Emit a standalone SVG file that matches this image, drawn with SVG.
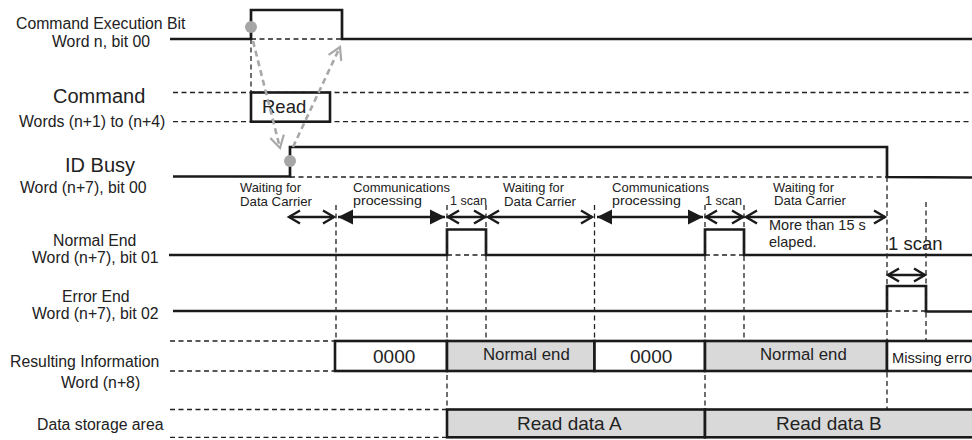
<svg xmlns="http://www.w3.org/2000/svg" width="972" height="440" viewBox="0 0 972 440">
<style>
text{font-family:"Liberation Sans",Arial,sans-serif;fill:#222}
.lbl{font-size:15.8px}
.big{font-size:20px}
.ann{font-size:12.2px}
.sig{fill:none;stroke:#1a1a1a;stroke-width:2.7;stroke-linejoin:miter}
.dash{fill:none;stroke:#222;stroke-width:1.3;stroke-dasharray:5 3.5}
.box{stroke:#1a1a1a;stroke-width:2.6}
.w{fill:#fff}
.g{fill:#d9d9d9}
.garr{fill:none;stroke:#a8a8a8;stroke-width:2.6;stroke-dasharray:6 4}
.oarr{fill:none;stroke:#1a1a1a;stroke-width:2.4}
</style>
<defs>
<marker id="gv" markerUnits="userSpaceOnUse" markerWidth="16" markerHeight="16" refX="12" refY="7" orient="auto" overflow="visible">
<path d="M0,0 L12,7 L0,14" fill="none" stroke="#a8a8a8" stroke-width="2.2"/>
</marker>
<marker id="ov" markerUnits="userSpaceOnUse" markerWidth="16" markerHeight="16" refX="11" refY="6.5" orient="auto-start-reverse" overflow="visible">
<path d="M0,0 L11,6.5 L0,13" fill="none" stroke="#1a1a1a" stroke-width="2.4"/>
</marker>
<marker id="fv" markerUnits="userSpaceOnUse" markerWidth="18" markerHeight="18" refX="15" refY="7.5" orient="auto-start-reverse" overflow="visible">
<path d="M0,0 L15,7.5 L0,15 Z" fill="#1a1a1a"/>
</marker>
</defs>
<rect width="972" height="440" fill="#fff"/>

<g id="cmd-exec">
<text class="lbl" x="16" y="29">Command Execution Bit</text>
<text class="lbl" x="52" y="46.5">Word n, bit 00</text>
<line class="dash" x1="251" y1="39" x2="342" y2="39"/>
<line class="dash" x1="251" y1="39" x2="251" y2="92"/>
<polyline class="sig" points="170,39 251,39 251,10 342,10 342,39 972,39"/>
<circle cx="251" cy="27" r="6" fill="#a6a6a6"/>
</g>

<g id="command">
<text class="big" x="53" y="102.5">Command</text>
<text class="lbl" x="19" y="126.5">Words (n+1) to (n+4)</text>
<line class="dash" x1="173" y1="92.5" x2="972" y2="92.5"/>
<line class="dash" x1="173" y1="121.7" x2="972" y2="121.7"/>
<rect class="box w" x="251" y="92.5" width="79" height="29.2"/>
<text x="262" y="113" style="font-size:18.5px">Read</text>
</g>

<g id="id-busy">
<text class="big" x="65" y="171.5">ID Busy</text>
<text class="lbl" x="20" y="192.5">Word (n+7), bit 00</text>
<line class="dash" x1="290" y1="177" x2="887" y2="177"/>
<polyline class="sig" points="173,176.5 290,176.5 290,147 887,147 887,177 972,177.5"/>
<circle cx="290" cy="161" r="6" fill="#a6a6a6"/>
</g>

<g id="normal-end">
<text class="lbl" x="53" y="246">Normal End</text>
<text class="lbl" x="32" y="262.5">Word (n+7), bit 01</text>
<line class="dash" x1="447" y1="255" x2="486" y2="255"/>
<line class="dash" x1="705" y1="255" x2="744" y2="255"/>
<polyline class="sig" points="169,255 447,255 447,229.5 486,229.5 486,255 705,255 705,229.5 744,229.5 744,255 972,255"/>
</g>

<g id="error-end">
<text class="lbl" x="62" y="301.5">Error End</text>
<text class="lbl" x="32" y="318.5">Word (n+7), bit 02</text>
<line class="dash" x1="887" y1="311" x2="926" y2="311"/>
<polyline class="sig" points="173,311 887,311 887,286 926,286 926,311.5 972,311.5"/>
</g>

<g id="guides">
<line class="dash" x1="336" y1="205" x2="336" y2="341"/>
<line class="dash" x1="447" y1="205" x2="447" y2="409"/>
<line class="dash" x1="486" y1="205" x2="486" y2="341"/>
<line class="dash" x1="594.5" y1="205" x2="594.5" y2="341"/>
<line class="dash" x1="705" y1="205" x2="705" y2="409"/>
<line class="dash" x1="744" y1="205" x2="744" y2="341"/>
<line class="dash" x1="887" y1="177" x2="887" y2="409"/>
<line class="dash" x1="926" y1="202" x2="926" y2="341"/>
</g>

<g id="result-info">
<text class="lbl" x="10" y="367">Resulting Information</text>
<text class="lbl" x="61" y="388">Word (n+8)</text>
<line class="dash" x1="170" y1="341" x2="335" y2="341"/>
<line class="dash" x1="170" y1="371" x2="335" y2="371"/>
<rect class="box w" x="335" y="341" width="112" height="30"/>
<rect class="box g" x="447" y="341" width="147.5" height="30"/>
<rect class="box w" x="594.5" y="341" width="110.5" height="30"/>
<rect class="box g" x="705" y="341" width="182" height="30"/>
<rect class="box w" x="887" y="341" width="100" height="30"/>
<text x="373" y="362.5" style="font-size:19px">0000</text>
<text x="483" y="360" style="font-size:16.8px">Normal end</text>
<text x="630" y="362.5" style="font-size:19px">0000</text>
<text x="760" y="360" style="font-size:16.8px">Normal end</text>
<text x="892" y="363" style="font-size:14.7px">Missing erro</text>
</g>

<g id="data-storage">
<text class="lbl" x="37" y="430">Data storage area</text>
<line class="dash" x1="170" y1="409.5" x2="447" y2="409.5"/>
<line class="dash" x1="170" y1="437.3" x2="447" y2="437.3"/>
<rect class="box g" x="447" y="409.5" width="258" height="27.8"/>
<rect class="box g" x="705" y="409.5" width="280" height="27.8"/>
<text x="517" y="430" style="font-size:19px">Read data A</text>
<text x="776" y="430" style="font-size:19px">Read data B</text>
</g>

<g id="annotations">
<text class="ann" x="240" y="192.3" textLength="61" lengthAdjust="spacingAndGlyphs">Waiting for</text>
<text class="ann" x="240" y="206" textLength="72" lengthAdjust="spacingAndGlyphs">Data Carrier</text>
<text class="ann" x="353" y="191.5" textLength="97" lengthAdjust="spacingAndGlyphs">Communications</text>
<text class="ann" x="353" y="205.2" textLength="69" lengthAdjust="spacingAndGlyphs">processing</text>
<text class="ann" x="450" y="205.2" textLength="37" lengthAdjust="spacingAndGlyphs">1 scan</text>
<text class="ann" x="503" y="192.3" textLength="61" lengthAdjust="spacingAndGlyphs">Waiting for</text>
<text class="ann" x="504" y="206" textLength="72" lengthAdjust="spacingAndGlyphs">Data Carrier</text>
<text class="ann" x="612" y="191.5" textLength="97" lengthAdjust="spacingAndGlyphs">Communications</text>
<text class="ann" x="612" y="205.2" textLength="69" lengthAdjust="spacingAndGlyphs">processing</text>
<text class="ann" x="705" y="205.2" textLength="37" lengthAdjust="spacingAndGlyphs">1 scan</text>
<text class="ann" x="773" y="191.5" textLength="61" lengthAdjust="spacingAndGlyphs">Waiting for</text>
<text class="ann" x="774" y="205.2" textLength="72" lengthAdjust="spacingAndGlyphs">Data Carrier</text>
<text x="769" y="230" style="font-size:14.5px">More than 15 s</text>
<text x="769" y="246.7" style="font-size:14.5px">elaped.</text>
<text x="888" y="250" style="font-size:18.5px">1 scan</text>
</g>

<g id="connectors">
<line class="garr" x1="253" y1="41" x2="280" y2="148" marker-end="url(#gv)"/>
<line class="garr" x1="293" y1="147" x2="340" y2="47" marker-end="url(#gv)"/>
<line class="oarr" x1="289" y1="217" x2="334" y2="217" marker-start="url(#ov)" marker-end="url(#ov)"/>
<line class="oarr" x1="338" y1="217" x2="445" y2="217" marker-start="url(#fv)" marker-end="url(#fv)"/>
<line class="oarr" x1="448" y1="217" x2="485" y2="217" marker-start="url(#ov)" marker-end="url(#ov)"/>
<line class="oarr" x1="488" y1="217" x2="592" y2="217" marker-start="url(#ov)" marker-end="url(#ov)"/>
<line class="oarr" x1="597" y1="217" x2="703" y2="217" marker-start="url(#fv)" marker-end="url(#fv)"/>
<line class="oarr" x1="706" y1="217" x2="743" y2="217" marker-start="url(#ov)" marker-end="url(#ov)"/>
<line class="oarr" x1="746" y1="217" x2="885" y2="217" marker-start="url(#ov)" marker-end="url(#ov)"/>
<line class="oarr" x1="888" y1="275" x2="925" y2="275" marker-start="url(#ov)" marker-end="url(#ov)"/>
</g>
</svg>
